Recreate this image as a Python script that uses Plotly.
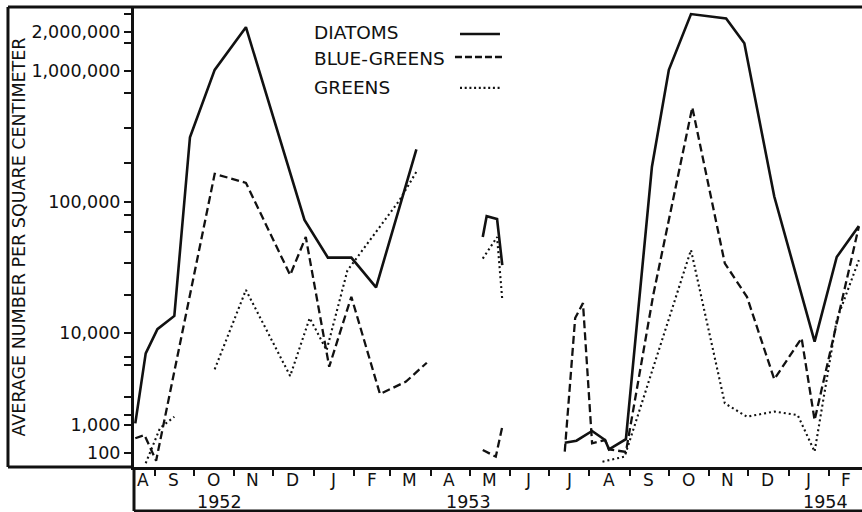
import math
import plotly.graph_objects as go

# ---------------- data (None = gap between sampling periods) ----------------
DIATOM_DATES = ["1952-08-17", "1952-08-25", "1952-09-03", "1952-09-16", "1952-09-28", "1952-10-17",
                "1952-11-10", "1952-12-25", "1953-01-12", "1953-01-30", "1953-02-18", "1953-03-21", None,
                "1953-05-11", "1953-05-14", "1953-05-22", "1953-05-26", None,
                "1953-07-13", "1953-07-22", "1953-08-03", "1953-08-13", "1953-08-16", "1953-08-29",
                "1953-09-18", "1953-10-01", "1953-10-18", "1953-11-14", "1953-11-28", "1953-12-21",
                "1954-01-21", "1954-02-07", "1954-02-24"]
DIATOMS = [1040, 6000, 10700, 13500, 312000, 1020000, 2160000, 73000, 37600, 37600, 22300, 252000, None,
           54000, 78000, 74000, 33000, None,
           233, 275, 610, 290, 135, 310, 186000, 1020000, 2720000, 2520000, 1630000, 110000,
           8050, 38000, 65600]

BLUEGREEN_DATES = ["1952-08-17", "1952-08-24", "1952-09-02", "1952-10-17", "1952-11-10", "1952-12-14",
                   "1952-12-26", "1953-01-13", "1953-01-30", "1953-02-21", "1953-03-13", "1953-03-29", None,
                   "1953-05-11", "1953-05-21", "1953-05-26", None,
                   "1953-07-13", "1953-07-21", "1953-07-27", "1953-08-03", "1953-08-13", "1953-08-16",
                   "1953-08-29", "1953-09-19", "1953-10-19", "1953-11-13", "1953-11-30", "1953-12-21",
                   "1954-01-11", "1954-01-21", "1954-02-24"]
BLUEGREENS = [335, 440, 53, 164000, 140000, 27700, 54000, 4300, 18900, 2170, 2960, 4750, None,
              128, 74, 870, None,
              112, 13000, 16900, 222, 290, 135, 109, 19500, 528000, 34000, 18900, 3140,
              8800, 1130, 65000]

GREEN_DATES = ["1952-08-25", "1952-09-05", "1952-09-16", None,
               "1952-10-17", "1952-11-10", "1952-12-14", "1952-12-29", "1953-01-11", "1953-01-27",
               "1953-03-08", "1953-03-21", None,
               "1953-05-11", "1953-05-22", "1953-05-26", None,
               "1953-08-11", "1953-08-28", "1953-10-18", "1953-11-13", "1953-11-30", "1953-12-21",
               "1954-01-08", "1954-01-21", "1954-02-07", "1954-02-24"]
GREENS = [43, 780, 1230, None,
          4030, 21300, 3410, 13000, 6500, 30000, 103000, 170000, None,
          37000, 54000, 17900, None,
          49, 74, 43000, 1720, 1230, 1400, 1280, 112, 12600, 36000]

Y_TICK_VALUES = [2000000, 1000000, 100000, 10000, 1000, 100]
Y_TICK_LABELS = ["2,000,000", "1,000,000", "100,000", "10,000", "1,000", "100"]
Y_MINOR_TICKS = [2700000, 1640000, 680000, 370000, 200000, 79000, 59000, 34000, 19500, 5480, 4490, 2015, 1280]

MONTH_LABEL_DATES = ["1952-08-23", "1952-09-15", "1952-10-16", "1952-11-15", "1952-12-16", "1953-01-16",
                     "1953-02-15", "1953-03-16", "1953-04-15", "1953-05-16", "1953-06-15", "1953-07-16",
                     "1953-08-16", "1953-09-15", "1953-10-16", "1953-11-15", "1953-12-16", "1954-01-16",
                     "1954-02-14"]
MONTH_LABELS = ["A", "S", "O", "N", "D", "J", "F", "M", "A", "M", "J", "J", "A", "S", "O", "N", "D", "J", "F"]
YEAR_LABEL_DATES = ["1952-10-21", "1953-04-30", "1954-01-29"]
YEAR_LABELS = ["1952", "1953", "1954"]

SERIES_NAMES = ["DIATOMS", "BLUE-GREENS", "GREENS"]


# The original's vertical scale is logarithmic above 10,000 and compressed below it.
def scale(v):
    if v is None:
        return None
    L = math.log10(v)
    if L >= 4:
        return L
    if L >= 3:
        return 4 - (4 - L) * 92 / 131
    return (4 - 92 / 131) - (3 - L) * 28 / 131


FONT = "DejaVu Sans"
INK = "#111111"

fig = go.Figure()
styles = [dict(width=2.6, dash="solid"),
          dict(width=2.3, dash="8px,4px"),
          dict(width=2.1, dash="2px,3px")]
for name, xs, ys, st in zip(SERIES_NAMES,
                            [DIATOM_DATES, BLUEGREEN_DATES, GREEN_DATES],
                            [DIATOMS, BLUEGREENS, GREENS], styles):
    fig.add_trace(go.Scatter(x=xs, y=[scale(v) for v in ys], mode="lines", name=name,
                             connectgaps=False, line=dict(color=INK, width=st["width"], dash=st["dash"]),
                             showlegend=False))

tickvals = [scale(v) for v in Y_TICK_VALUES] + [scale(v) for v in Y_MINOR_TICKS]
ticktext = Y_TICK_LABELS + [""] * len(Y_MINOR_TICKS)

fig.update_layout(
    width=862, height=512,
    margin=dict(l=134, r=0, t=7, b=45),
    paper_bgcolor="white", plot_bgcolor="white",
    font=dict(family=FONT, color=INK),
    xaxis=dict(type="date", range=["1952-08-16", "1954-02-26 10:00"],
               tick0="1952-09-01", dtick="M1", ticks="outside", ticklen=6, tickwidth=2,
               tickcolor=INK, showticklabels=False, showgrid=False, zeroline=False,
               showline=True, linewidth=3, linecolor=INK),
    yaxis=dict(range=[2.977, 6.4885], tickmode="array", tickvals=tickvals, ticktext=ticktext,
               ticks="outside", ticklen=7, tickwidth=2, tickcolor=INK,
               tickfont=dict(size=17.5, family=FONT, color=INK),
               showgrid=False, zeroline=False, showline=True, linewidth=3, linecolor=INK),
)

ann = []
for d, t in zip(MONTH_LABEL_DATES, MONTH_LABELS):
    ann.append(dict(x=d, y=0, xref="x", yref="paper", text=t, showarrow=False,
                    yanchor="middle", yshift=-13, font=dict(size=17, family=FONT, color=INK)))
for d, t in zip(YEAR_LABEL_DATES, YEAR_LABELS):
    ann.append(dict(x=d, y=0, xref="x", yref="paper", text=t, showarrow=False,
                    yanchor="middle", yshift=-35, font=dict(size=17.5, family=FONT, color=INK)))
ann.append(dict(x=-0.1573, y=0.5, xref="paper", yref="paper", text="AVERAGE NUMBER PER SQUARE CENTIMETER",
                textangle=-90, showarrow=False, xanchor="center", yanchor="middle",
                font=dict(size=17.5, family=FONT, color=INK)))

# legend (text left, line sample right, as in the original)
leg_y = [0.9435, 0.887, 0.824]
for name, y in zip(SERIES_NAMES, leg_y):
    ann.append(dict(x=0.2445, y=y, xref="paper", yref="paper", text=name, showarrow=False,
                    xanchor="left", yanchor="middle", font=dict(size=18.5, family=FONT, color=INK)))
fig.update_layout(annotations=ann)

shapes = []
sample_x = [(0.4478, 0.5027), (0.4409, 0.5055), (0.4478, 0.5055)]
sample_style = [dict(width=2.6, dash="solid"), dict(width=2.6, dash="7px,3px"), dict(width=2.2, dash="2px,2.7px")]
for (x0, x1), y, st in zip(sample_x, [0.9413, 0.8913, 0.824], sample_style):
    shapes.append(dict(type="line", xref="paper", yref="paper", x0=x0, x1=x1, y0=y, y1=y,
                       line=dict(color=INK, width=st["width"], dash=st["dash"])))

# frame lines
L = -0.1731
B = -0.0957
frame = [(L, 1, 1, 1), (L, L, 0, 1), (L, 0, 0, 0), (0, 0, B, 0), (0, 1, B, B)]
for x0, x1, y0, y1 in frame:
    shapes.append(dict(type="line", xref="paper", yref="paper", x0=x0, x1=x1, y0=y0, y1=y1,
                       line=dict(color=INK, width=3)))
fig.update_layout(shapes=shapes)

fig.write_html("out.html", config={"displayModeBar": False},
               post_script="document.body.style.margin='0px';document.body.style.overflow='hidden';")
